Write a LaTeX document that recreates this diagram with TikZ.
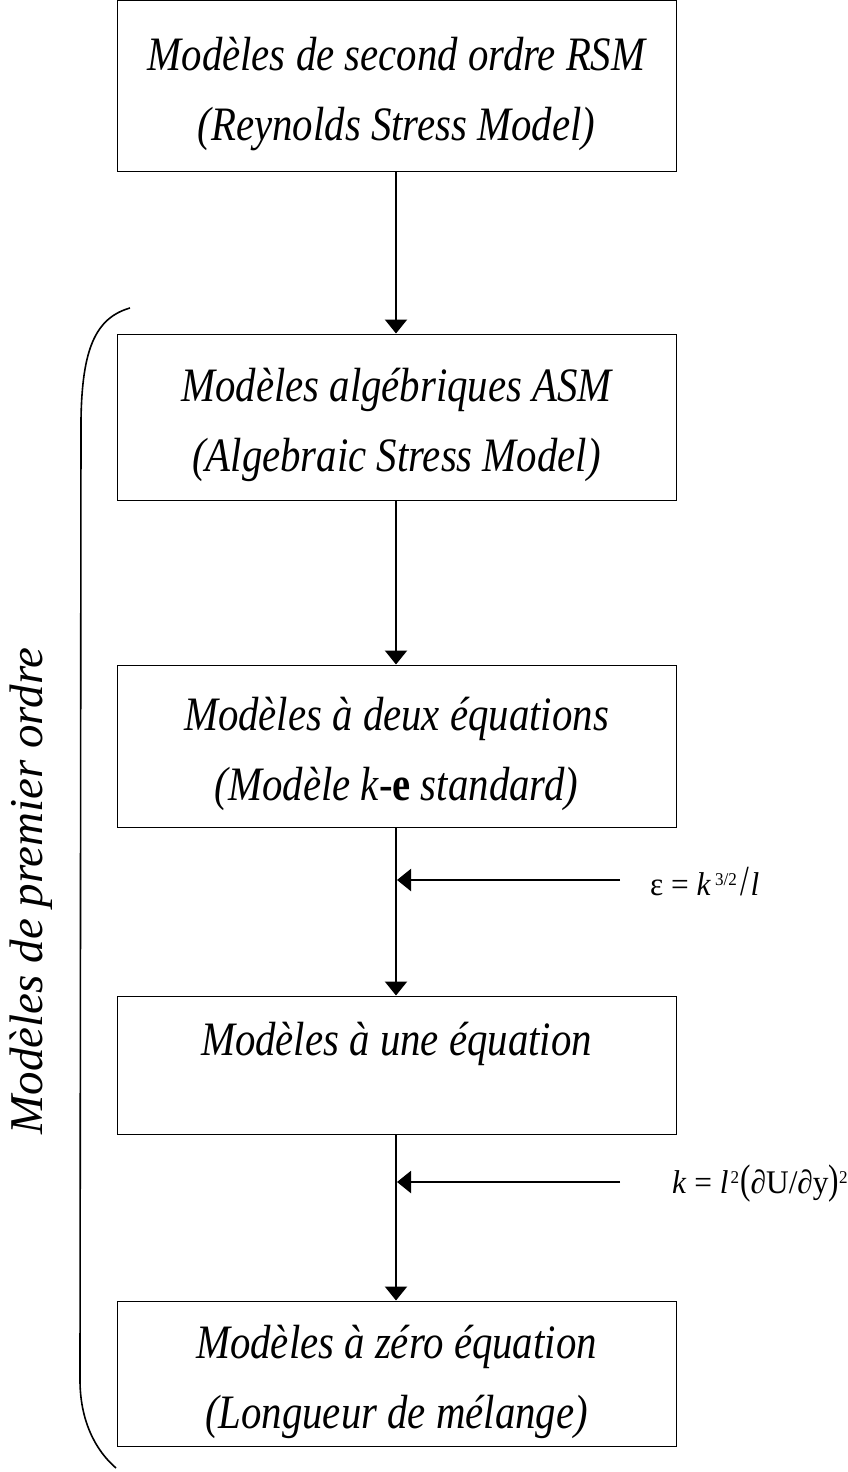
\documentclass[tikz,border=0pt]{standalone}
\usepackage{fontspec}
\setmainfont{Liberation Serif}
\newfontfamily\boxfont[FakeStretch=0.85]{Liberation Serif}
\newfontfamily\formfont[FakeStretch=0.95]{Liberation Serif}
\usetikzlibrary{arrows.meta}
\newcommand{\supnum}[1]{\raisebox{0.7ex}{\fontsize{18}{18}\selectfont #1}}
\begin{document}
\begin{tikzpicture}[x=1pt,y=-1pt,
  modelbox/.style={draw,line width=1pt,minimum width=559pt,inner sep=0pt},
  boxtext/.style={font=\boxfont\fontsize{48}{70}\selectfont\itshape,align=center,inner sep=0pt},
  flow/.style={line width=2.2pt,-{Triangle[length=14pt,width=22pt]}},
  formula/.style={font=\formfont\fontsize{33}{36}\selectfont,anchor=west,inner sep=0pt}]
\useasboundingbox (0,0) rectangle (848,1472);
% boxes
\node[modelbox,minimum height=170pt] (rsm) at (396.5,86) {};
\node[modelbox,minimum height=166pt] (asm) at (396.5,417) {};
\node[modelbox,minimum height=162pt] (two) at (396.5,746) {};
\node[modelbox,minimum height=138pt] (one) at (396.5,1065) {};
\node[modelbox,minimum height=145pt] (zero) at (396.5,1373.5) {};
% box captions
\node[boxtext] (rsmtext) at ([yshift=-8pt]rsm.center)
  {Modèles de second ordre RSM\\(Reynolds Stress Model)};
\node[boxtext] (asmtext) at ([yshift=-8pt]asm.center)
  {Modèles algébriques ASM\\(Algebraic Stress Model)};
\node[boxtext] (twotext) at ([yshift=-8pt]two.center)
  {Modèles à deux équations\\(Modèle k-{\upshape\bfseries e} standard)};
\node[boxtext,anchor=base] (onetext) at (396.5,1055) {Modèles à une équation};
\node[boxtext] (zerotext) at ([yshift=-8pt]zero.center)
  {Modèles à zéro équation\\(Longueur de mélange)};
% vertical flow
\draw[flow] (rsm.south -| 396,0) -- (asm.north -| 396,0);
\draw[flow] (asm.south -| 396,0) -- (two.north -| 396,0);
\draw[flow] (two.south -| 396,0) -- (one.north -| 396,0);
\draw[flow] (one.south -| 396,0) -- (zero.north -| 396,0);
% closures feeding in from the right
\node[formula] (eps) at (650,882)
  {ε = \textit{k}\kern4pt\supnum{3/2}\kern4pt\scalebox{1}[1.3]{/}\kern1pt\textit{l}};
\node[formula] (mix) at (672,1184)
  {\textit{k} = \textit{l}\kern2pt\supnum{2}\kern1pt\scalebox{1}[1.25]{(}∂U/∂y\scalebox{1}[1.25]{)}\supnum{2}};
\coordinate (epsin) at (620,880);
\coordinate (mixin) at (620,1182);
\draw[flow] (epsin) -- (397,880);
\draw[flow] (mixin) -- (397,1182);
% brace grouping the first-order models
\coordinate (btop) at (130,308);
\coordinate (bbot) at (116,1468);
\draw[line width=1.6pt] (btop) .. controls (95,318) and (82,350) .. (81,420)
  -- (80,1380) .. controls (80,1420) and (95,1450) .. (bbot);
\node[rotate=90,font=\fontsize{47}{50}\selectfont\itshape] (first) at (31,891)
  {Modèles de premier ordre};
\end{tikzpicture}
\end{document}
